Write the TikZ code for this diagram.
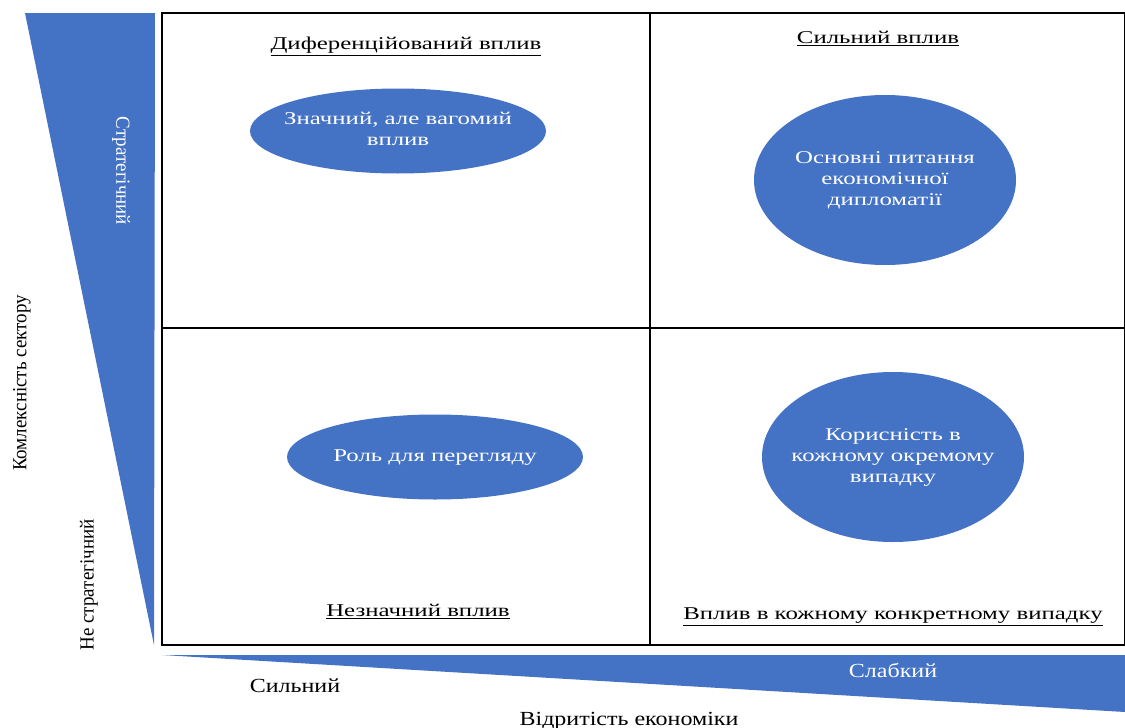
\documentclass[tikz,border=0pt]{standalone}
\usepackage{fontspec}
\setmainfont{Liberation Serif}
\usetikzlibrary{shapes.geometric}
\definecolor{blu}{HTML}{4472C4}
\newcommand{\wide}[1]{\scalebox{1.38}[1]{\begin{tabular}{@{}c@{}}#1\end{tabular}}}
\newcommand{\axwide}[1]{\scalebox{1.2}[1]{#1}}
\newcommand{\axlong}[1]{\scalebox{0.95}[1]{#1}}
\tikzset{
  blob/.style={ellipse, fill=blu, draw=none, inner sep=0pt},
  blobtext/.style={text=white, align=center, font=\fontsize{18}{21}\selectfont, inner sep=0pt},
  head/.style={font=\fontsize{18}{21}\selectfont, anchor=base},
  axis/.style={font=\fontsize{20}{24}\selectfont},
  grid/.style={draw=black, line width=1.4pt}
}
\begin{document}
\begin{tikzpicture}[x=1pt,y=-1pt]
\useasboundingbox (0,0) rectangle (1125,728);
% triangles
\fill[blu] (25,13) -- (155,13) -- (154,645) -- cycle;
\fill[blu] (162,655) -- (1125,655) -- (1125,712) -- cycle;
% grid
\draw[grid] (162,13) rectangle (1125,645);
\coordinate (mt) at (650,13);
\coordinate (mb) at (650,645);
\coordinate (ml) at (162,328);
\coordinate (mr) at (1125,328);
\draw[grid] (mt) -- (mb);
\draw[grid] (ml) -- (mr);
% headers
\node[head] (h1) at (406,50) {\wide{\underline{Диференційований вплив}}};
\node[head] (h2) at (878,44) {\wide{\underline{Сильний вплив}}};
\node[head] (h3) at (418,617) {\wide{\underline{Незначний вплив}}};
\node[head] (h4) at (893,620) {\wide{\underline{Вплив в кожному конкретному випадку}}};
% ellipses
\node[blob, minimum width=296pt, minimum height=85pt] (e1) at (398,131) {};
\node[blob, minimum width=262pt, minimum height=170pt] (e2) at (885,180) {};
\node[blob, minimum width=296pt, minimum height=85pt] (e3) at (435,457) {};
\node[blob, minimum width=262pt, minimum height=170pt] (e4) at (893,457) {};
\node[blobtext] (t1) at (e1) {\wide{Значний, але вагомий\\вплив}};
\node[blobtext] (t2) at (e2) {\wide{Основні питання\\економічної\\дипломатії}};
\node[blobtext] (t3) at (e3) {\wide{Роль для перегляду}};
\node[blobtext] (t4) at (e4) {\wide{Корисність в\\кожному окремому\\випадку}};
% axis labels
\node[axis, text=white, rotate=-90] (s1) at (121,171) {\axlong{Стратегічний}};
\node[axis, rotate=90] (s2) at (22,383) {\axlong{Комлексність сектору}};
\node[axis, rotate=90] (s3) at (89,585) {\axlong{Не стратегічний}};
\node[axis, anchor=base] (s4) at (295,692) {\axwide{Сильний}};
\node[axis, text=white, anchor=base] (s5) at (893,677) {\axwide{Слабкий}};
\node[axis, anchor=base] (s6) at (629,725) {\axwide{Відритість економіки}};
\end{tikzpicture}
\end{document}
